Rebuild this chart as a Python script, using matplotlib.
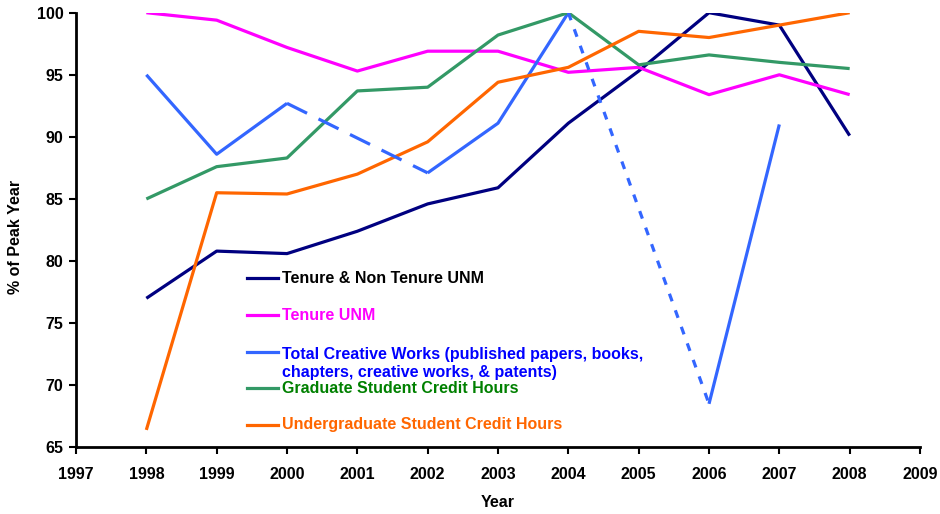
import matplotlib.pyplot as plt
import numpy as np

plt.rcParams['font.family'] = ['Liberation Sans', 'DejaVu Sans']
plt.rcParams['font.weight'] = 'bold'

years = np.arange(1998, 2009)

tenure_all = [77.0, 80.8, 80.6, 82.4, 84.6, 85.9, 91.1, 95.3, 100.0, 99.0, 90.1]
tenure_unm = [100.0, 99.4, 97.2, 95.3, 96.9, 96.9, 95.2, 95.6, 93.4, 95.0, 93.4]
creative = [95.0, 88.6, 92.7, np.nan, 87.1, 91.1, 100.0, np.nan, 68.5, 91.0, np.nan]
grad_sch = [85.0, 87.6, 88.3, 93.7, 94.0, 98.2, 100.0, 95.8, 96.6, 96.0, 95.5]
ugrad_sch = [66.4, 85.5, 85.4, 87.0, 89.6, 94.4, 95.6, 98.5, 98.0, 99.0, 100.0]

labels = ['Tenure & Non Tenure UNM',
          'Tenure UNM',
          'Total Creative Works (published papers, books,\nchapters, creative works, & patents)',
          'Graduate Student Credit Hours',
          'Undergraduate Student Credit Hours']
line_colors = ['#000080', '#FF00FF', '#3366FF', '#339966', '#FF6600']
text_colors = ['#000000', '#FF00FF', '#0000FF', '#008000', '#FF6600']

fs = 11.5
fig = plt.figure(figsize=(9.4, 5.14), dpi=100)
ax = fig.add_axes([76 / 940, 1 - 447.3 / 514, 844 / 940, 434.6 / 514])

lw = 2.3
series = [tenure_all, tenure_unm, creative, grad_sch, ugrad_sch]
for vals, c in zip(series, line_colors):
    ax.plot(years, vals, color=c, lw=lw, solid_capstyle='butt')

# gaps in creative works bridged by dashed / dotted segments
cw = dict(zip(years, creative))
ax.plot([2000, 2002], [cw[2000], cw[2002]], color=line_colors[2], lw=lw,
        dashes=(7, 4), dash_capstyle='butt')
ax.plot([2004, 2006], [cw[2004], cw[2006]], color=line_colors[2], lw=lw,
        dashes=(2.5, 3), dash_capstyle='butt')

ax.set_xlim(1997, 2009)
ax.set_ylim(65, 100)
ax.set_xticks(np.arange(1997, 2010))
ax.set_yticks(np.arange(65, 101, 5))
ax.tick_params(labelsize=fs, width=1.5, length=5, direction='out')
ax.tick_params(axis='x', pad=9)
ax.tick_params(axis='y', pad=4)
for s in ['top', 'right']:
    ax.spines[s].set_visible(False)
for s in ['left', 'bottom']:
    ax.spines[s].set_linewidth(2)
ax.set_xlabel('Year', fontsize=fs, fontweight='bold', va='center')
ax.set_ylabel('% of Peak Year', fontsize=fs, fontweight='bold', va='center')
ax.xaxis.set_label_coords(0.5, -0.126)
ax.yaxis.set_label_coords(-0.072, 0.483)

# legend drawn by hand, like the spreadsheet legend
leg_y = [278.3, 315, 352.3, 388.3, 425]
for lab, lc, tc, yp in zip(labels, line_colors, text_colors, leg_y):
    fy = 1 - yp / 514
    fig.add_artist(plt.Line2D([246.7 / 940, 277.7 / 940], [fy, fy], color=lc, lw=lw))
    if '\n' in lab:
        fig.text(281.7 / 940, fy + 5 / 514, lab, color=tc, fontsize=fs,
                 fontweight='bold', va='top', linespacing=1.25)
    else:
        fig.text(281.7 / 940, fy, lab, color=tc, fontsize=fs,
                 fontweight='bold', va='center')

fig.savefig('out.png', dpi=100)
